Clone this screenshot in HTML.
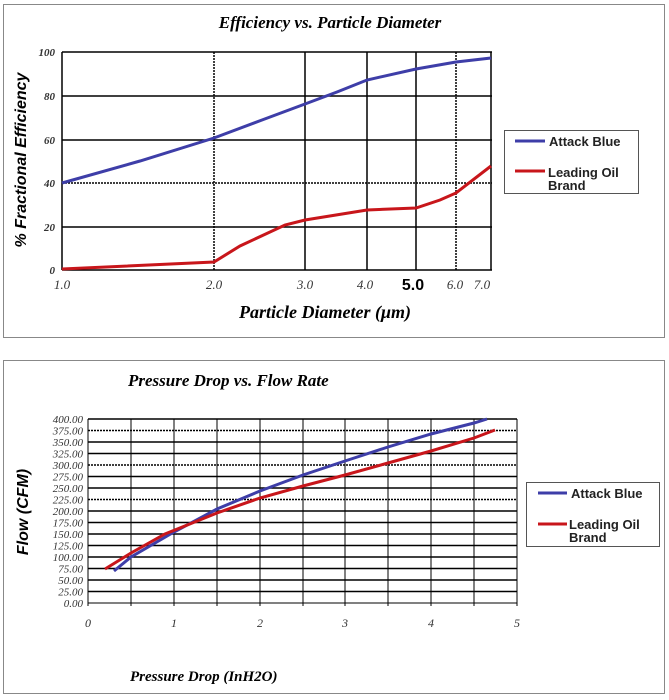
<!DOCTYPE html>
<html><head><style>body{margin:0;background:#fff}svg{display:block}</style></head><body>
<svg width="669" height="700" xmlns="http://www.w3.org/2000/svg" font-family="Liberation Serif, serif">
<rect x="3.5" y="4.5" width="661" height="333" fill="#fff" stroke="#888" stroke-width="1"/>
<text x="330" y="28" text-anchor="middle" font-size="17" font-weight="bold" font-style="italic">Efficiency vs. Particle Diameter</text>
<g stroke="#000" stroke-width="1.5">
<line x1="62" y1="52" x2="492" y2="52"/><line x1="62" y1="96" x2="492" y2="96"/><line x1="62" y1="140" x2="492" y2="140"/><line x1="62" y1="183" x2="492" y2="183" stroke-dasharray="2,1"/><line x1="62" y1="227" x2="492" y2="227"/><line x1="62" y1="270" x2="492" y2="270"/>
<line x1="62" y1="52" x2="62" y2="270"/><line x1="214" y1="52" x2="214" y2="270" stroke-dasharray="2,1"/><line x1="305" y1="52" x2="305" y2="270"/><line x1="367" y1="52" x2="367" y2="270"/><line x1="416" y1="52" x2="416" y2="270"/><line x1="456" y1="52" x2="456" y2="270" stroke-dasharray="2,1"/><line x1="491" y1="52" x2="491" y2="270"/>
</g>
<g font-size="11" font-style="italic" font-weight="bold" text-anchor="end" fill="#333">
<text x="55" y="56">100</text><text x="55" y="100">80</text><text x="55" y="144">60</text><text x="55" y="187">40</text><text x="55" y="231">20</text><text x="55" y="274">0</text></g>
<g font-size="13" font-style="italic" text-anchor="middle" fill="#333">
<text x="62" y="289">1.0</text><text x="214" y="289">2.0</text><text x="305" y="289">3.0</text><text x="365" y="289">4.0</text><text x="482" y="289">7.0</text><text x="455" y="289">6.0</text></g>
<text x="413" y="290" text-anchor="middle" font-size="16" font-weight="bold" font-family="Liberation Sans, sans-serif">5.0</text>
<text x="325" y="318" text-anchor="middle" font-size="18" font-weight="bold" font-style="italic">Particle Diameter (μm)</text>
<text transform="translate(26,160) rotate(-90)" text-anchor="middle" font-size="16" font-weight="bold" font-style="italic" font-family="Liberation Sans, sans-serif">% Fractional Efficiency</text>
<polyline fill="none" stroke="#3e3ea8" stroke-width="3" points="62,183 140,161 214,138 262,120 305,104 337,92 367,80 416,69 456,62 491,58"/>
<polyline fill="none" stroke="#c8161b" stroke-width="3" points="62,269 214,262 240,246 285,225 305,220 367,210 416,208 440,200 456,193 491,166"/>
<rect x="504.5" y="130.5" width="134" height="63" fill="#fff" stroke="#555"/>
<line x1="515" y1="141" x2="545" y2="141" stroke="#3e3ea8" stroke-width="3"/>
<line x1="515" y1="171" x2="545" y2="171" stroke="#c8161b" stroke-width="3"/>
<g font-family="Liberation Sans, sans-serif" font-size="13" font-weight="bold" fill="#222">
<text x="549" y="146">Attack Blue</text><text x="548" y="177">Leading Oil</text><text x="548" y="190">Brand</text></g>

<rect x="3.5" y="360.5" width="661" height="333" fill="#fff" stroke="#888" stroke-width="1"/>
<text x="128" y="386" font-size="17" font-weight="bold" font-style="italic">Pressure Drop vs. Flow Rate</text>
<g stroke="#000" stroke-width="1.5">
<line x1="88" y1="419" x2="517" y2="419"/><line x1="88" y1="430.5" x2="517" y2="430.5" stroke-dasharray="2,1"/><line x1="88" y1="442" x2="517" y2="442"/><line x1="88" y1="453.5" x2="517" y2="453.5"/><line x1="88" y1="465" x2="517" y2="465" stroke-dasharray="2,1"/><line x1="88" y1="476.5" x2="517" y2="476.5"/><line x1="88" y1="488" x2="517" y2="488"/><line x1="88" y1="499.5" x2="517" y2="499.5" stroke-dasharray="2,1"/><line x1="88" y1="511" x2="517" y2="511"/><line x1="88" y1="522.5" x2="517" y2="522.5"/><line x1="88" y1="534" x2="517" y2="534"/><line x1="88" y1="545.5" x2="517" y2="545.5"/><line x1="88" y1="557" x2="517" y2="557"/><line x1="88" y1="568.5" x2="517" y2="568.5"/><line x1="88" y1="580" x2="517" y2="580"/><line x1="88" y1="591.5" x2="517" y2="591.5"/>
<line x1="88" y1="603" x2="517" y2="603" stroke-width="1"/>
</g>
<g stroke="#000" stroke-width="1">
<line x1="88" y1="419" x2="88" y2="606"/><line x1="131" y1="419" x2="131" y2="606"/><line x1="174" y1="419" x2="174" y2="606"/><line x1="217" y1="419" x2="217" y2="606"/><line x1="260" y1="419" x2="260" y2="606"/><line x1="303" y1="419" x2="303" y2="606"/><line x1="345" y1="419" x2="345" y2="606"/><line x1="388" y1="419" x2="388" y2="606"/><line x1="431" y1="419" x2="431" y2="606"/><line x1="474" y1="419" x2="474" y2="606"/><line x1="517" y1="419" x2="517" y2="606"/></g>
<g font-size="11" font-style="italic" text-anchor="end" fill="#333">
<text x="83" y="423">400.00</text><text x="83" y="434.5">375.00</text><text x="83" y="446">350.00</text><text x="83" y="457.5">325.00</text><text x="83" y="469">300.00</text><text x="83" y="480.5">275.00</text><text x="83" y="492">250.00</text><text x="83" y="503.5">225.00</text><text x="83" y="515">200.00</text><text x="83" y="526.5">175.00</text><text x="83" y="538">150.00</text><text x="83" y="549.5">125.00</text><text x="83" y="561">100.00</text><text x="83" y="572.5">75.00</text><text x="83" y="584">50.00</text><text x="83" y="595.5">25.00</text><text x="83" y="607">0.00</text></g>
<g font-size="12" font-style="italic" text-anchor="middle" fill="#333">
<text x="88" y="627">0</text><text x="174" y="627">1</text><text x="260" y="627">2</text><text x="345" y="627">3</text><text x="431" y="627">4</text><text x="517" y="627">5</text></g>
<text x="130" y="681" font-size="15" font-weight="bold" font-style="italic">Pressure Drop (InH2O)</text>
<text transform="translate(28,512) rotate(-90)" text-anchor="middle" font-size="16" font-weight="bold" font-style="italic" font-family="Liberation Sans, sans-serif">Flow (CFM)</text>
<polyline fill="none" stroke="#3e3ea8" stroke-width="3" points="114,571 131,557 174,532 217,509 260,491 303,475 345,461 388,447 431,434 474,423 487,419"/>
<polyline fill="none" stroke="#c8161b" stroke-width="3" points="105,569 131,553 165,534 217,513 260,498 303,486 345,475 388,463 431,451 474,438 495,430"/>
<rect x="526.5" y="482.5" width="133" height="64" fill="#fff" stroke="#555"/>
<line x1="538" y1="493" x2="567" y2="493" stroke="#3e3ea8" stroke-width="3"/>
<line x1="538" y1="524" x2="567" y2="524" stroke="#c8161b" stroke-width="3"/>
<g font-family="Liberation Sans, sans-serif" font-size="13" font-weight="bold" fill="#222">
<text x="571" y="498">Attack Blue</text><text x="569" y="529">Leading Oil</text><text x="569" y="542">Brand</text></g>
</svg>
</body></html>
